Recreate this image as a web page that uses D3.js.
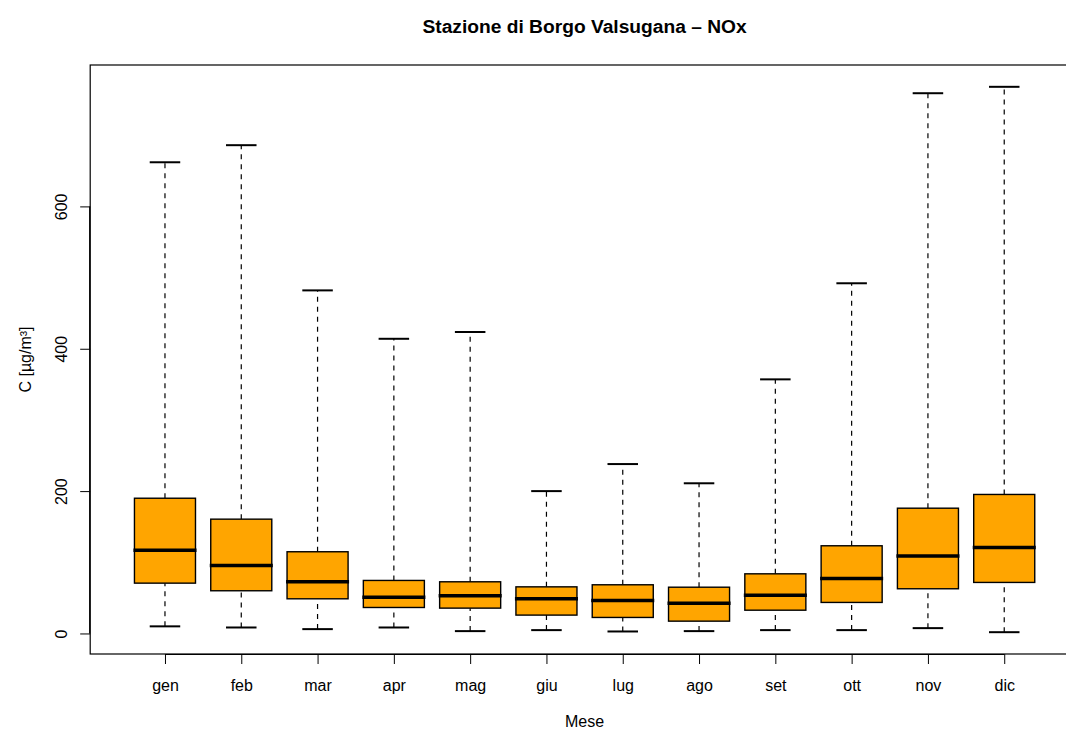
<!DOCTYPE html>
<html><head><meta charset="utf-8">
<script src="https://cdn.jsdelivr.net/npm/d3@7"></script>
<style>body{margin:0;background:#fff;} text{font-family:"Liberation Sans",Arial,sans-serif;}</style>
</head><body>
<svg id="c" width="1066" height="731"></svg>
<script>
const months = ["gen","feb","mar","apr","mag","giu","lug","ago","set","ott","nov","dic"];
const whiskerLow = [10, 8.4, 6.1, 8.4, 3.3, 4.7, 2.8, 3.3, 4.7, 4.7, 7.5, 1.8];
const q1 = [70.7, 60, 48.7, 36.5, 35.6, 25.8, 22.5, 17.3, 32.7, 43.6, 62.8, 71.7];
const median = [117, 95.5, 72.6, 51, 53, 48.7, 46.4, 42.6, 53.8, 77.3, 109, 120.8];
const q3 = [190, 160.6, 114.8, 74.5, 72.6, 65.5, 68.4, 65, 83.8, 123.2, 176, 195.3];
const whiskerHigh = [662, 686, 482, 414, 423.5, 200, 238, 211, 357, 492, 759, 768];
const yTicks = [0, 200, 400, 600];
const title = "Stazione di Borgo Valsugana \u2013 NOx";
const xTitle = "Mese";
const yTitle = "C [\u00b5g/m\u00b3]";

const svg = d3.select("#c");
const L = 90.2, R = 1079, T = 65, B = 654;
const lo = d3.min(whiskerLow), hi = d3.max(whiskerHigh), r = hi - lo;
const y = d3.scaleLinear().domain([lo - 0.04*r, hi + 0.04*r]).range([B, T]);
const x = d3.scaleLinear().domain([0.02, 12.98]).range([L, R]);
const unit = x(2) - x(1);
const bw = 0.8*unit, cw = 0.4*unit;
const FONT = "Liberation Sans, Arial, sans-serif";

const data = months.map((m,i)=>({m, i:i+1, lo:whiskerLow[i], q1:q1[i], med:median[i], q3:q3[i], hi:whiskerHigh[i]}));

const g = svg.append("g");
// whiskers
g.selectAll(".wu").data(data).join("line")
 .attr("x1",d=>x(d.i)).attr("x2",d=>x(d.i)).attr("y1",d=>y(d.q3)).attr("y2",d=>y(d.hi))
 .attr("stroke","#000").attr("stroke-width",1.2).attr("stroke-dasharray","5,5");
g.selectAll(".wl").data(data).join("line")
 .attr("x1",d=>x(d.i)).attr("x2",d=>x(d.i)).attr("y1",d=>y(d.lo)).attr("y2",d=>y(d.q1))
 .attr("stroke","#000").attr("stroke-width",1.2).attr("stroke-dasharray","5,5");
// caps
g.selectAll(".cu").data(data).join("line")
 .attr("x1",d=>x(d.i)-cw/2).attr("x2",d=>x(d.i)+cw/2).attr("y1",d=>y(d.hi)).attr("y2",d=>y(d.hi))
 .attr("stroke","#000").attr("stroke-width",2);
g.selectAll(".cl").data(data).join("line")
 .attr("x1",d=>x(d.i)-cw/2).attr("x2",d=>x(d.i)+cw/2).attr("y1",d=>y(d.lo)).attr("y2",d=>y(d.lo))
 .attr("stroke","#000").attr("stroke-width",2);
// boxes
g.selectAll(".bx").data(data).join("rect")
 .attr("x",d=>x(d.i)-bw/2).attr("width",bw).attr("y",d=>y(d.q3)).attr("height",d=>y(d.q1)-y(d.q3))
 .attr("fill","#FFA500").attr("stroke","#000").attr("stroke-width",1.4);
// medians
g.selectAll(".md").data(data).join("line")
 .attr("x1",d=>x(d.i)-bw/2-1).attr("x2",d=>x(d.i)+bw/2+1).attr("y1",d=>y(d.med)).attr("y2",d=>y(d.med))
 .attr("stroke","#000").attr("stroke-width",3.5);

// frame
svg.append("rect").attr("x",L).attr("y",T).attr("width",R-L).attr("height",B-T)
 .attr("fill","none").attr("stroke","#000").attr("stroke-width",1.2);

// x axis
const xa = svg.append("g").attr("transform",`translate(0,${B})`)
 .call(d3.axisBottom(x).tickValues(d3.range(1,13)).tickFormat(d=>months[d-1]).tickSize(10).tickSizeOuter(0));
xa.select(".domain").attr("d",`M${x(1)},0.5H${x(12)}`).attr("stroke-width",1.2);
xa.selectAll("text").attr("font-size",16).attr("fill","#000").attr("font-family",FONT)
 .attr("y",37).attr("dy",0);

// y axis
const ya = svg.append("g").attr("transform",`translate(${L},0)`)
 .call(d3.axisLeft(y).tickValues(yTicks).tickSize(10).tickSizeOuter(0));
ya.select(".domain").attr("d",`M-0.5,${y(0)}V${y(600)}`).attr("stroke-width",1.2);
ya.selectAll(".tick text").attr("font-size",16).attr("fill","#000").attr("font-family",FONT)
 .attr("x",0).attr("y",0).attr("dy",0).attr("text-anchor","middle")
 .attr("transform",`translate(${66.7-L},0) rotate(-90)`);

// titles
svg.append("text").attr("x",(L+R)/2).attr("y",33).attr("text-anchor","middle")
 .attr("font-size",19.2).attr("font-weight","bold").text(title);
svg.append("text").attr("x",(L+R)/2).attr("y",727).attr("text-anchor","middle")
 .attr("font-size",16).text(xTitle);
svg.append("text").attr("transform",`translate(30.5,${(T+B)/2}) rotate(-90)`).attr("text-anchor","middle")
 .attr("font-size",16).text(yTitle);
</script>
</body></html>
